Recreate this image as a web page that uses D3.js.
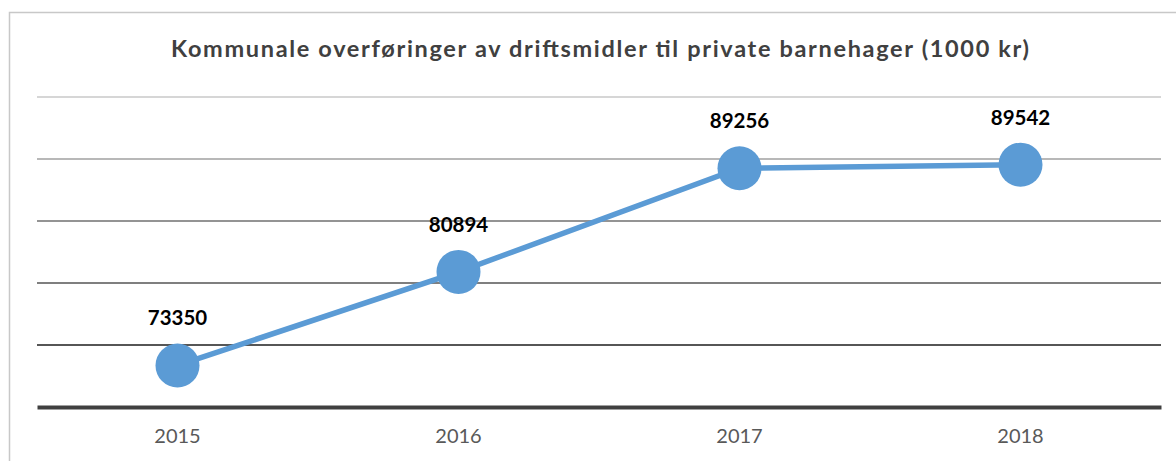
<!DOCTYPE html>
<html>
<head>
<meta charset="utf-8">
<script src="https://cdn.jsdelivr.net/npm/d3@7"></script>
<style>
  html, body { margin: 0; padding: 0; background: #fff; }
  svg { display: block; }
</style>
</head>
<body>
<svg id="chart" width="1176" height="461"></svg>
<script>
const title = "Kommunale overføringer av driftsmidler til private barnehager (1000 kr)";
const years = ["2015", "2016", "2017", "2018"];
const values = [73350, 80894, 89256, 89542];
const gridTicks = [75000, 80000, 85000, 90000, 95000];
const gridColors = ["#1e1e1e", "#555555", "#707070", "#a0a0a0", "#c8c8c8"];

const svg = d3.select("#chart");
const W = 1176, H = 461;
const FONT = "Lato, 'Open Sans', sans-serif";

// chart area border
svg.append("rect")
  .attr("x", 9.5).attr("y", 12.5)
  .attr("width", W + 10).attr("height", H + 10)
  .attr("fill", "#fff").attr("stroke", "#c8c8c8").attr("stroke-width", 1.5);

const x = d3.scaleBand().domain(years).range([37, 1161]);
const y = d3.scaleLinear().domain([70000, 95000]).range([407, 97]);

// gridlines
svg.append("g").selectAll("line")
  .data(gridTicks)
  .join("line")
  .attr("x1", 37).attr("x2", 1161)
  .attr("y1", d => y(d)).attr("y2", d => y(d))
  .attr("stroke", (d, i) => gridColors[i])
  .attr("stroke-width", 1.5);

// baseline axis
const xAxis = d3.axisBottom(x).tickSize(0).tickPadding(22);
const gx = svg.append("g").attr("transform", `translate(0,${y(70000)})`).call(xAxis);
gx.select(".domain").attr("stroke", "#404040").attr("stroke-width", 4);
gx.selectAll("text")
  .attr("font-family", FONT)
  .attr("font-size", 20)
  .attr("fill", "#595959");

// line
const cx = d => x(d) + x.bandwidth() / 2;
const line = d3.line().x((d, i) => cx(years[i])).y(d => y(d));
svg.append("path")
  .datum(values)
  .attr("d", line)
  .attr("fill", "none")
  .attr("stroke", "#5b9bd5")
  .attr("stroke-width", 5.5);

svg.append("g").selectAll("circle")
  .data(values)
  .join("circle")
  .attr("cx", (d, i) => cx(years[i]))
  .attr("cy", d => y(d))
  .attr("r", 22)
  .attr("fill", "#5b9bd5");

svg.append("g").selectAll("text")
  .data(values)
  .join("text")
  .attr("x", (d, i) => cx(years[i]))
  .attr("y", d => y(d) - 40)
  .attr("text-anchor", "middle")
  .attr("font-family", FONT)
  .attr("font-weight", "bold")
  .attr("font-size", 20.5)
  .attr("fill", "#000")
  .text(d => d);

svg.append("text")
  .attr("x", 600).attr("y", 57)
  .attr("text-anchor", "middle")
  .attr("font-family", FONT)
  .attr("font-weight", "bold")
  .attr("font-size", 23.5)
  .attr("textLength", 858)
  .attr("lengthAdjust", "spacing")
  .attr("fill", "#404040")
  .text(title);
</script>
</body>
</html>
